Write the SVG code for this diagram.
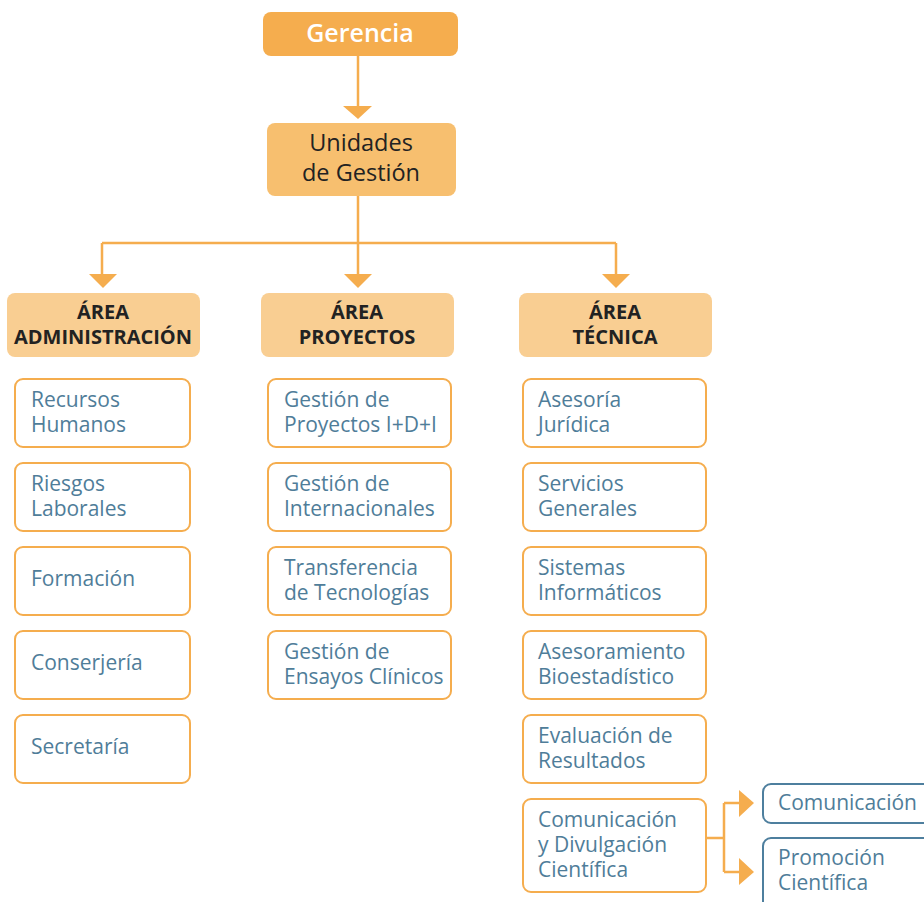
<svg xmlns="http://www.w3.org/2000/svg" width="924" height="902" viewBox="0 0 924 902">
<style>
text{font-family:"Open Sans","Noto Sans","Liberation Sans",sans-serif}
.top{fill:#F5AD4E}
.ug{fill:#F7BF6F}
.area{fill:#F9CE92}
.sub{fill:#fff;stroke:#F5AD4E;stroke-width:2}
.blue{fill:#fff;stroke:#4E7F9E;stroke-width:2}
.t1{font-size:25px;font-weight:600;fill:#fff;text-anchor:middle}
.t2{font-size:23.5px;fill:#222;text-anchor:middle}
.t3{font-size:20px;font-weight:bold;fill:#222;text-anchor:middle}
.t4{font-size:21px;fill:#4F7D99}
.ln{fill:none;stroke:#F5AD4E;stroke-width:2.5}
.ah{fill:#F5AD4E}
</style>
<g id="connectors">
<path class="ln" d="M358 56V107"/>
<polygon class="ah" points="343,106 372,106 358,119"/>
<path class="ln" d="M358 196V243M102 243H616M102 243V275M358 243V275M616 243V275"/>
<polygon class="ah" points="89,274 117,274 103,288"/>
<polygon class="ah" points="344,274 372,274 358,288"/>
<polygon class="ah" points="602,274 630,274 616,288"/>
<path class="ln" d="M706 838H724M724 803V872M724 803H740M724 872H740"/>
<polygon class="ah" points="739,790 739,817 754,803"/>
<polygon class="ah" points="739,858 739,885 754,872"/>
</g>
<g id="gerencia"><rect class="top" x="263" y="12" width="195" height="44" rx="8"/><text class="t1" x="360" y="42">Gerencia</text></g>
<g id="unidades"><rect class="ug" x="267" y="123" width="189" height="73" rx="8"/><text class="t2" x="361" y="151">Unidades</text><text class="t2" x="361" y="181">de Gestión</text></g>
<g id="area-admin"><rect class="area" x="7" y="293" width="193" height="64" rx="8"/><text class="t3" x="103" y="319">ÁREA</text><text class="t3" x="103" y="344">ADMINISTRACIÓN</text></g>
<g id="area-proyectos"><rect class="area" x="261" y="293" width="193" height="64" rx="8"/><text class="t3" x="357" y="319">ÁREA</text><text class="t3" x="357" y="344">PROYECTOS</text></g>
<g id="area-tecnica"><rect class="area" x="519" y="293" width="193" height="64" rx="8"/><text class="t3" x="615" y="319">ÁREA</text><text class="t3" x="615" y="344">TÉCNICA</text></g>

<g id="recursos"><rect class="sub" x="15" y="379" width="175" height="68" rx="8"/><text class="t4" x="31" y="407">Recursos</text><text class="t4" x="31" y="432">Humanos</text></g>
<g id="riesgos"><rect class="sub" x="15" y="463" width="175" height="68" rx="8"/><text class="t4" x="31" y="491">Riesgos</text><text class="t4" x="31" y="516">Laborales</text></g>
<g id="formacion"><rect class="sub" x="15" y="547" width="175" height="68" rx="8"/><text class="t4" x="31" y="586">Formación</text></g>
<g id="conserjeria"><rect class="sub" x="15" y="631" width="175" height="68" rx="8"/><text class="t4" x="31" y="670">Conserjería</text></g>
<g id="secretaria"><rect class="sub" x="15" y="715" width="175" height="68" rx="8"/><text class="t4" x="31" y="754">Secretaría</text></g>

<g id="proy-idi"><rect class="sub" x="268" y="379" width="183" height="68" rx="8"/><text class="t4" x="284" y="407">Gestión de</text><text class="t4" x="284" y="432">Proyectos I+D+I</text></g>
<g id="proy-int"><rect class="sub" x="268" y="463" width="183" height="68" rx="8"/><text class="t4" x="284" y="491">Gestión de</text><text class="t4" x="284" y="516">Internacionales</text></g>
<g id="proy-tt"><rect class="sub" x="268" y="547" width="183" height="68" rx="8"/><text class="t4" x="284" y="575">Transferencia</text><text class="t4" x="284" y="600">de Tecnologías</text></g>
<g id="proy-ec"><rect class="sub" x="268" y="631" width="183" height="68" rx="8"/><text class="t4" x="284" y="659">Gestión de</text><text class="t4" x="284" y="684">Ensayos Clínicos</text></g>

<g id="tec-juridica"><rect class="sub" x="523" y="379" width="183" height="68" rx="8"/><text class="t4" x="538" y="407">Asesoría</text><text class="t4" x="538" y="432">Jurídica</text></g>
<g id="tec-servicios"><rect class="sub" x="523" y="463" width="183" height="68" rx="8"/><text class="t4" x="538" y="491">Servicios</text><text class="t4" x="538" y="516">Generales</text></g>
<g id="tec-sistemas"><rect class="sub" x="523" y="547" width="183" height="68" rx="8"/><text class="t4" x="538" y="575">Sistemas</text><text class="t4" x="538" y="600">Informáticos</text></g>
<g id="tec-bioest"><rect class="sub" x="523" y="631" width="183" height="68" rx="8"/><text class="t4" x="538" y="659">Asesoramiento</text><text class="t4" x="538" y="684">Bioestadístico</text></g>
<g id="tec-eval"><rect class="sub" x="523" y="715" width="183" height="68" rx="8"/><text class="t4" x="538" y="743">Evaluación de</text><text class="t4" x="538" y="768">Resultados</text></g>
<g id="tec-com"><rect class="sub" x="523" y="799" width="183" height="93" rx="8"/><text class="t4" x="538" y="827">Comunicación</text><text class="t4" x="538" y="852">y Divulgación</text><text class="t4" x="538" y="877">Científica</text></g>

<g id="comunicacion"><rect class="blue" x="763" y="784" width="175" height="39" rx="8"/><text class="t4" x="778" y="810">Comunicación</text></g>
<g id="promocion"><rect class="blue" x="763" y="838" width="175" height="80" rx="8"/><text class="t4" x="778" y="865">Promoción</text><text class="t4" x="778" y="890">Científica</text></g>
</svg>
